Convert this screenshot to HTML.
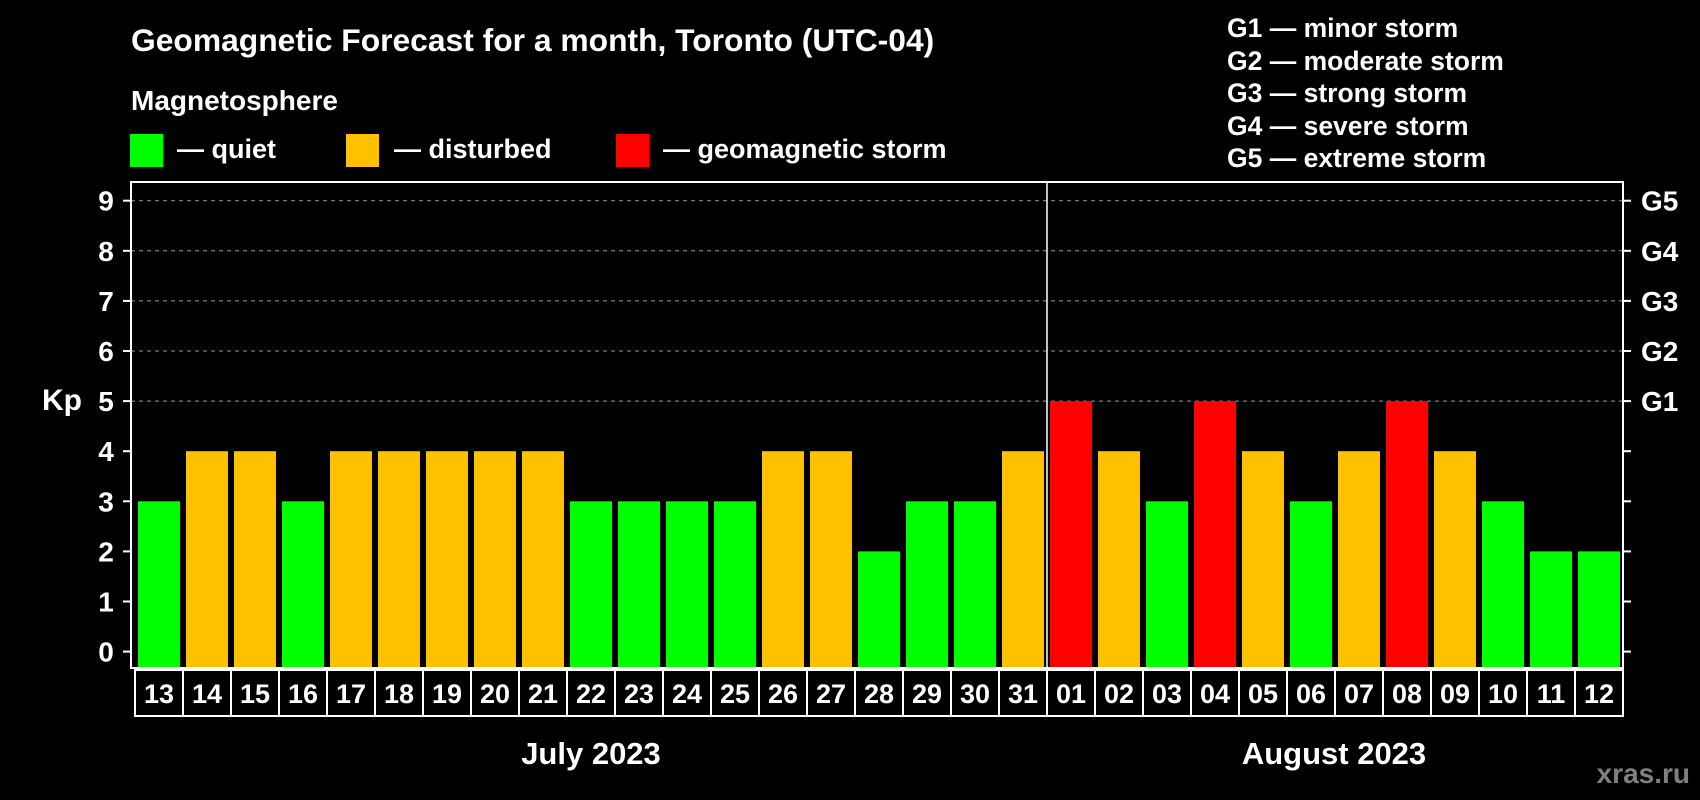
<!DOCTYPE html>
<html><head><meta charset="utf-8"><style>
html,body{margin:0;padding:0;background:#000;}
svg{display:block;font-family:"Liberation Sans",Arial,sans-serif;font-weight:bold;}
</style></head><body>
<svg id="chart" width="1700" height="800" viewBox="0 0 1700 800">
<rect x="0" y="0" width="1700" height="800" fill="#000"/>
<text x="131" y="51" fill="#fff" font-size="31.8">Geomagnetic Forecast for a month, Toronto (UTC-04)</text>
<text x="131" y="110" fill="#fff" font-size="28">Magnetosphere</text>
<g><rect x="130" y="134" width="33" height="33" fill="#00ff00"/><text x="177" y="158" fill="#fff" font-size="27">— quiet</text></g>
<g><rect x="346" y="134" width="33" height="33" fill="#ffc000"/><text x="394" y="158" fill="#fff" font-size="27">— disturbed</text></g>
<g><rect x="616" y="134" width="33" height="33" fill="#ff0000"/><text x="663" y="158" fill="#fff" font-size="27">— geomagnetic storm</text></g>
<g fill="#fff" font-size="26.5">
<text x="1227" y="37">G1 — minor storm</text>
<text x="1227" y="70">G2 — moderate storm</text>
<text x="1227" y="102">G3 — strong storm</text>
<text x="1227" y="135">G4 — severe storm</text>
<text x="1227" y="167">G5 — extreme storm</text>
</g>
<text x="62" y="410" fill="#fff" font-size="30" text-anchor="middle">Kp</text>
<g id="plot"></g>
<text x="591" y="764" fill="#fff" font-size="31" text-anchor="middle">July 2023</text>
<text x="1334" y="764" fill="#fff" font-size="31" text-anchor="middle">August 2023</text>
<text x="1690" y="783" fill="#808080" font-size="28" text-anchor="end">xras.ru</text>
</svg>
<script>
const days = ["13","14","15","16","17","18","19","20","21","22","23","24","25","26","27","28","29","30","31","01","02","03","04","05","06","07","08","09","10","11","12"];
const kpValues = [3,4,4,3,4,4,4,4,4,3,3,3,3,4,4,2,3,3,4,5,4,3,5,4,3,4,5,4,3,2,2];
const yTicks = [0,1,2,3,4,5,6,7,8,9];
const gLabels = ["G1","G2","G3","G4","G5"];
const gLevels = [5,6,7,8,9];

const NS="http://www.w3.org/2000/svg";
const plotG=document.getElementById('plot');
const pLeft=131,pRight=1623,pTop=182,pBottom=668;
const slot0=135,pitch=48;
const yScale=v=>651.6-v*50.1;
const xScale=i=>slot0+i*pitch;
function mk(t,a){const e=document.createElementNS(NS,t);for(const k in a)e.setAttribute(k,a[k]);plotG.appendChild(e);return e;}
gLevels.forEach(v=>{
  const l=mk('line',{x1:pLeft,x2:pRight,y1:yScale(v),y2:yScale(v),stroke:'#999','stroke-dasharray':'4,4','stroke-width':1});
  
  
});
kpValues.forEach((v,i)=>{
  const c=v>=5?'#ff0000':(v>=4?'#ffc000':'#00ff00');
  const r=mk('rect',{x:xScale(i)+3,y:yScale(v),width:42,height:pBottom-yScale(v),fill:c});
  
  
  const b=mk('rect',{x:xScale(i),y:670,width:pitch,height:46,fill:'none',stroke:'#fff','stroke-width':2});
  
  
  const t=mk('text',{x:xScale(i)+pitch/2,y:703,fill:'#fff','font-size':27,'text-anchor':'middle'});
  t.textContent=days[i];
  
  
});
const f=mk('rect',{x:pLeft,y:pTop,width:pRight-pLeft,height:pBottom-pTop,fill:'none',stroke:'#fff','stroke-width':2});


const dv=mk('line',{x1:xScale(19),x2:xScale(19),y1:pTop,y2:pBottom,stroke:'#fff','stroke-width':1.5});


yTicks.forEach(v=>{
  const y=yScale(v);
  const tl=mk('line',{x1:pLeft-8,x2:pLeft,y1:y,y2:y,stroke:'#fff','stroke-width':2});
  
  
  const tr=mk('line',{x1:pRight,x2:pRight+8,y1:y,y2:y,stroke:'#fff','stroke-width':2});
  
  
  const t=mk('text',{x:106,y:y+10,fill:'#fff','font-size':28,'text-anchor':'middle'});
  t.textContent=v;
  
  
});
gLabels.forEach((s,i)=>{
  const t=mk('text',{x:1641,y:yScale(gLevels[i])+10,fill:'#fff','font-size':28});
  t.textContent=s;
  
  
});
</script>
</body></html>
